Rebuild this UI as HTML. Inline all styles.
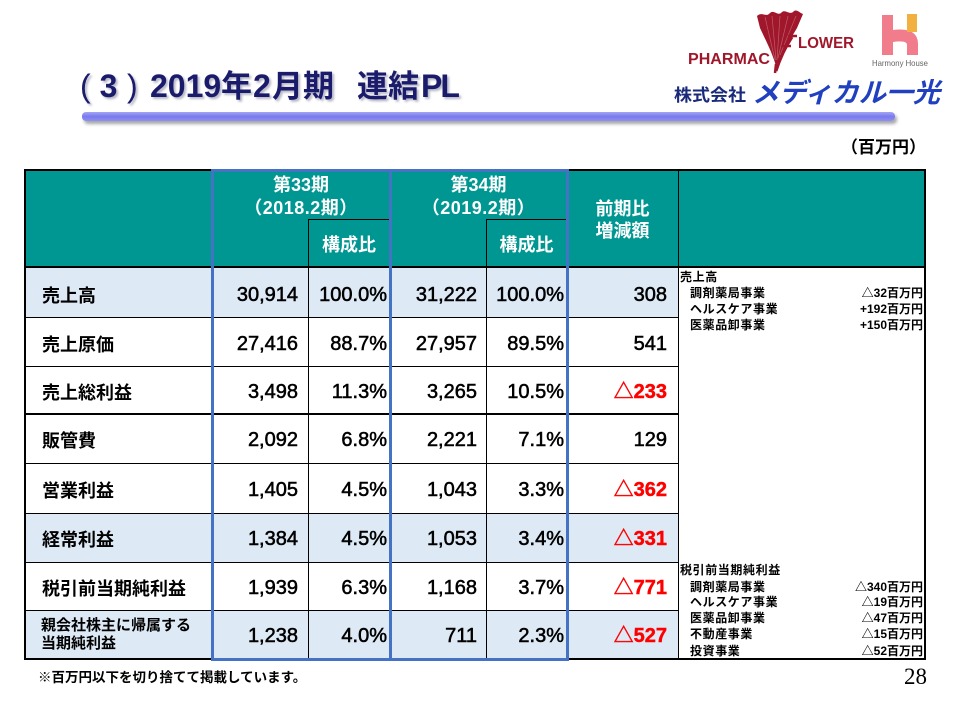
<!DOCTYPE html>
<html><head><meta charset="utf-8">
<style>
*{margin:0;padding:0;box-sizing:border-box}
body{width:960px;height:720px;background:#fff;position:relative;overflow:hidden;font-family:"Liberation Sans","Noto Sans CJK JP",sans-serif;color:#000}
.a{position:absolute}
.title{left:80px;top:69px;font-size:32px;line-height:34px;font-weight:bold;color:#1b1b6b;white-space:nowrap;text-shadow:2px 2px 2px #b8b8c8}
.title span{display:inline-block}
.bar{left:82px;top:112px;width:813px;height:9px;border-radius:4px;background:linear-gradient(to bottom,#a4a4f6,#7a7aee 50%,#8e8ef2);box-shadow:2px 3px 3px rgba(0,0,0,0.35)}
.hd{color:#fff;font-weight:bold;text-align:center;white-space:nowrap}
.lbl{left:42px;font-size:18px;font-weight:bold;white-space:nowrap}
.num{font-size:20px;text-align:right;white-space:nowrap;-webkit-text-stroke:0.55px #000}
.red{color:#f00;-webkit-text-stroke:0.45px #f00;font-weight:bold}
.note{font-size:12px;font-weight:bold;line-height:16px;white-space:nowrap;letter-spacing:0.6px}
.hl{background:#000;height:1px}
.vl{background:#000;width:1px}
</style></head><body>

<!-- Title -->
<div class="a title"><span style="width:10px;font-weight:normal">(</span><span style="width:37px;text-align:center">3</span><span style="width:23px;font-weight:normal">)</span><span style="width:71px">2019</span><span style="width:32px;font-size:31px">年</span><span style="width:19px">2</span><span style="width:85px;font-size:31px">月期</span><span style="width:64px;font-size:31px">連結</span><span style="letter-spacing:-2px">PL</span></div>
<div class="a bar"></div>

<!-- Logo -->
<svg class="a" style="left:0;top:0" width="960" height="110" viewBox="0 0 960 110">
  <path d="M757,16 C762,11 766,18 770,13 C774,9 778,17 782,12 C786,9 790,16 794,11 C797,9 800,13 803,14 L797,28 C790,40 782,52 776,66 C772,52 765,39 760,28 Z" fill="#a0162a"/>
  <g stroke="#fff" stroke-width="0.7" opacity="0.3" fill="none">
    <path d="M765,17 L775,60"/><path d="M772,16 L776,60"/><path d="M780,16 L777,60"/><path d="M788,16 L778,58"/><path d="M796,16 L780,55"/>
  </g>
  <path d="M776,64 L775,73" stroke="#a0162a" stroke-width="2.5"/>
  <path d="M776,71 Q782,52 792,37" stroke="#a0162a" stroke-width="3" fill="none"/>
  <path d="M788,36 L797,36" stroke="#a0162a" stroke-width="2.5"/>
  <path d="M783,46 L791,46" stroke="#a0162a" stroke-width="2.5"/>
  <text x="688" y="64" font-family="Liberation Sans" font-weight="bold" font-size="16" fill="#a0162a" textLength="82" lengthAdjust="spacingAndGlyphs">PHARMAC</text>
  <text x="798" y="48" font-family="Liberation Sans" font-weight="bold" font-size="16" fill="#a0162a" textLength="56" lengthAdjust="spacingAndGlyphs">LOWER</text>
  <rect x="882" y="15" width="11" height="40" fill="#f07c8c"/>
  <path d="M893,30 Q918,27 918,44 L918,55 L907,55 L907,45 Q907,40 893,42 Z" fill="#f07c8c"/>
  <rect x="907" y="14" width="10" height="18" fill="#f2b040"/>
  <text x="872" y="66" font-family="Liberation Sans" font-size="8.5" fill="#666" textLength="56" lengthAdjust="spacingAndGlyphs">Harmony House</text>
  <text x="674" y="101" font-family="Noto Sans CJK JP, sans-serif" font-weight="bold" font-size="17" fill="#1a2a7a" textLength="72" lengthAdjust="spacingAndGlyphs">株式会社</text>
  <g transform="translate(752,102) skewX(-15)">
    <text x="0" y="0" font-family="Noto Sans CJK JP, sans-serif" font-weight="bold" font-size="27" fill="#2040c0" textLength="188" lengthAdjust="spacingAndGlyphs">メディカル一光</text>
  </g>
</svg>

<div class="a" style="left:841px;top:138px;font-size:17px;font-weight:bold;line-height:20px;white-space:nowrap">（百万円）</div>

<!-- Table backgrounds -->
<div class="a" style="left:25px;top:170px;width:900px;height:98px;background:#009793"></div>
<div class="a" style="left:25px;top:268px;width:653px;height:49px;background:#dde9f5"></div>
<div class="a" style="left:25px;top:513px;width:653px;height:49px;background:#dde9f5"></div>
<div class="a" style="left:25px;top:610px;width:653px;height:49px;background:#dde9f5"></div>

<!-- Header text -->
<div class="a hd" style="left:212px;top:175px;width:178px;font-size:18px;line-height:20px">第33期</div>
<div class="a hd" style="left:212px;top:197px;width:178px;font-size:18px;line-height:22px;letter-spacing:0.5px">（2018.2期）</div>
<div class="a hd" style="left:308px;top:233px;width:82px;font-size:18px;line-height:24px">構成比</div>
<div class="a hd" style="left:390px;top:175px;width:177px;font-size:18px;line-height:20px">第34期</div>
<div class="a hd" style="left:390px;top:197px;width:177px;font-size:18px;line-height:22px;letter-spacing:0.5px">（2019.2期）</div>
<div class="a hd" style="left:486px;top:233px;width:81px;font-size:18px;line-height:24px">構成比</div>
<div class="a hd" style="left:567px;top:198px;width:111px;font-size:18px;line-height:22px">前期比<br>増減額</div>

<!-- Lines -->
<div class="a" style="left:24px;top:169px;width:902px;height:491px;border:2px solid #000"></div>
<div class="a" style="left:25px;top:266px;width:900px;height:2px;background:#000"></div>
<div class="a hl" style="left:308px;top:219px;width:82px"></div>
<div class="a hl" style="left:486px;top:219px;width:81px"></div>
<div class="a vl" style="left:308px;top:219px;height:440px"></div>
<div class="a vl" style="left:486px;top:219px;height:440px"></div>
<div class="a vl" style="left:567px;top:170px;height:489px"></div>
<div class="a vl" style="left:678px;top:170px;height:489px"></div>
<div class="a hl" style="left:25px;top:317px;width:653px"></div>
<div class="a hl" style="left:25px;top:366px;width:653px"></div>
<div class="a" style="left:25px;top:413px;width:653px;height:2px;background:#000"></div>
<div class="a hl" style="left:25px;top:463px;width:653px"></div>
<div class="a hl" style="left:25px;top:513px;width:653px"></div>
<div class="a hl" style="left:25px;top:562px;width:653px"></div>
<div class="a hl" style="left:25px;top:610px;width:653px"></div>

<!-- Rows -->
<div class="a lbl" style="top:272px;line-height:49px">売上高</div>
<div class="a lbl" style="top:321px;line-height:49px">売上原価</div>
<div class="a lbl" style="top:369px;line-height:48px">売上総利益</div>
<div class="a lbl" style="top:417px;line-height:49px">販管費</div>
<div class="a lbl" style="top:466px;line-height:50px">営業利益</div>
<div class="a lbl" style="top:516px;line-height:49px">経常利益</div>
<div class="a lbl" style="top:565px;line-height:48px">税引前当期純利益</div>
<div class="a" style="left:41px;top:617px;font-size:15px;line-height:18px;font-weight:bold;white-space:nowrap">親会社株主に帰属する<br>当期純利益</div>

<!-- numbers -->
<div class="a num" style="left:212px;width:86px;top:271px;line-height:49px">30,914</div>
<div class="a num" style="left:308px;width:79px;top:271px;line-height:49px">100.0%</div>
<div class="a num" style="left:390px;width:87px;top:271px;line-height:49px">31,222</div>
<div class="a num" style="left:486px;width:78px;top:271px;line-height:49px">100.0%</div>
<div class="a num" style="left:567px;width:100px;top:271px;line-height:49px">308</div>

<div class="a num" style="left:212px;width:86px;top:320px;line-height:49px">27,416</div>
<div class="a num" style="left:308px;width:79px;top:320px;line-height:49px">88.7%</div>
<div class="a num" style="left:390px;width:87px;top:320px;line-height:49px">27,957</div>
<div class="a num" style="left:486px;width:78px;top:320px;line-height:49px">89.5%</div>
<div class="a num" style="left:567px;width:100px;top:320px;line-height:49px">541</div>

<div class="a num" style="left:212px;width:86px;top:368px;line-height:48px">3,498</div>
<div class="a num" style="left:308px;width:79px;top:368px;line-height:48px">11.3%</div>
<div class="a num" style="left:390px;width:87px;top:368px;line-height:48px">3,265</div>
<div class="a num" style="left:486px;width:78px;top:368px;line-height:48px">10.5%</div>
<div class="a num red" style="left:567px;width:100px;top:368px;line-height:48px">△233</div>

<div class="a num" style="left:212px;width:86px;top:416px;line-height:49px">2,092</div>
<div class="a num" style="left:308px;width:79px;top:416px;line-height:49px">6.8%</div>
<div class="a num" style="left:390px;width:87px;top:416px;line-height:49px">2,221</div>
<div class="a num" style="left:486px;width:78px;top:416px;line-height:49px">7.1%</div>
<div class="a num" style="left:567px;width:100px;top:416px;line-height:49px">129</div>

<div class="a num" style="left:212px;width:86px;top:465px;line-height:50px">1,405</div>
<div class="a num" style="left:308px;width:79px;top:465px;line-height:50px">4.5%</div>
<div class="a num" style="left:390px;width:87px;top:465px;line-height:50px">1,043</div>
<div class="a num" style="left:486px;width:78px;top:465px;line-height:50px">3.3%</div>
<div class="a num red" style="left:567px;width:100px;top:465px;line-height:50px">△362</div>

<div class="a num" style="left:212px;width:86px;top:515px;line-height:49px">1,384</div>
<div class="a num" style="left:308px;width:79px;top:515px;line-height:49px">4.5%</div>
<div class="a num" style="left:390px;width:87px;top:515px;line-height:49px">1,053</div>
<div class="a num" style="left:486px;width:78px;top:515px;line-height:49px">3.4%</div>
<div class="a num red" style="left:567px;width:100px;top:515px;line-height:49px">△331</div>

<div class="a num" style="left:212px;width:86px;top:564px;line-height:48px">1,939</div>
<div class="a num" style="left:308px;width:79px;top:564px;line-height:48px">6.3%</div>
<div class="a num" style="left:390px;width:87px;top:564px;line-height:48px">1,168</div>
<div class="a num" style="left:486px;width:78px;top:564px;line-height:48px">3.7%</div>
<div class="a num red" style="left:567px;width:100px;top:564px;line-height:48px">△771</div>

<div class="a num" style="left:212px;width:86px;top:612px;line-height:49px">1,238</div>
<div class="a num" style="left:308px;width:79px;top:612px;line-height:49px">4.0%</div>
<div class="a num" style="left:390px;width:87px;top:612px;line-height:49px">711</div>
<div class="a num" style="left:486px;width:78px;top:612px;line-height:49px">2.3%</div>
<div class="a num red" style="left:567px;width:100px;top:612px;line-height:49px">△527</div>

<!-- Blue rectangles -->
<div class="a" style="left:211px;top:169px;width:181px;height:492px;border:3px solid #4472c4"></div>
<div class="a" style="left:389px;top:169px;width:180px;height:492px;border:3px solid #4472c4"></div>

<!-- Notes -->
<div class="a note" style="left:680px;top:269px">売上高</div>
<div class="a note" style="left:690px;top:285px">調剤薬局事業</div>
<div class="a note" style="left:690px;top:301px">ヘルスケア事業</div>
<div class="a note" style="left:690px;top:317px">医薬品卸事業</div>
<div class="a note" style="left:800px;width:123px;text-align:right;top:285px;letter-spacing:0">△32百万円</div>
<div class="a note" style="left:800px;width:123px;text-align:right;top:301px;letter-spacing:0">+192百万円</div>
<div class="a note" style="left:800px;width:123px;text-align:right;top:317px;letter-spacing:0">+150百万円</div>

<div class="a note" style="left:680px;top:562px">税引前当期純利益</div>
<div class="a note" style="left:690px;top:579px">調剤薬局事業</div>
<div class="a note" style="left:690px;top:594px">ヘルスケア事業</div>
<div class="a note" style="left:690px;top:610px">医薬品卸事業</div>
<div class="a note" style="left:690px;top:626px">不動産事業</div>
<div class="a note" style="left:690px;top:643px">投資事業</div>
<div class="a note" style="left:780px;width:143px;text-align:right;top:579px;letter-spacing:0">△340百万円</div>
<div class="a note" style="left:780px;width:143px;text-align:right;top:594px;letter-spacing:0">△19百万円</div>
<div class="a note" style="left:780px;width:143px;text-align:right;top:610px;letter-spacing:0">△47百万円</div>
<div class="a note" style="left:780px;width:143px;text-align:right;top:626px;letter-spacing:0">△15百万円</div>
<div class="a note" style="left:780px;width:143px;text-align:right;top:643px;letter-spacing:0">△52百万円</div>

<!-- Footer -->
<div class="a" style="left:38px;top:669px;font-size:13.5px;font-weight:bold;line-height:18px;white-space:nowrap">※百万円以下を切り捨てて掲載しています。</div>
<div class="a" style="left:904px;top:664px;font-family:'Liberation Serif',serif;font-size:23px;line-height:26px">28</div>

</body></html>
